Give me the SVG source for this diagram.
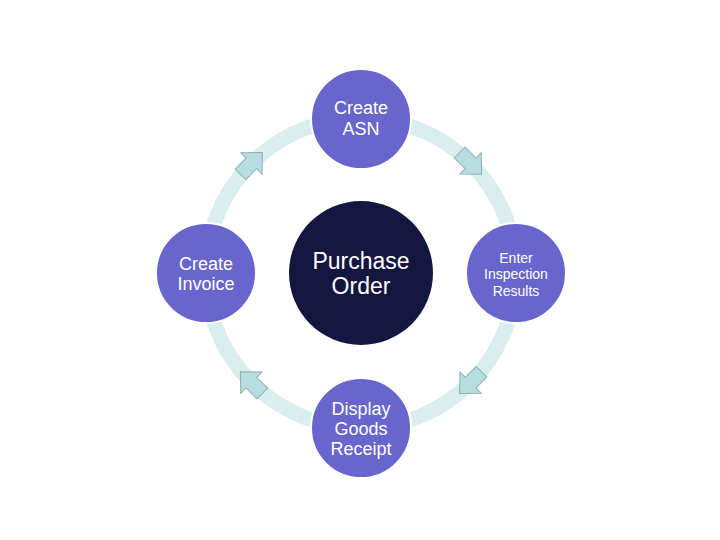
<svg xmlns="http://www.w3.org/2000/svg" width="720" height="540" viewBox="0 0 720 540">
<defs>
<style>
.node{fill:#6866CC;stroke:#ffffff;stroke-width:2}
.center{fill:#15163F}
.t{font-family:"Liberation Sans",Arial,sans-serif;fill:#ffffff;text-anchor:middle}
.arrow{fill:#B8DDE0;stroke:#8FAFB2;stroke-width:1}
</style>
<polygon id="blk" points="-15.5,-7.5 0,-7.5 0,-15 15.5,0 0,15 0,7.5 -15.5,7.5"/>
</defs>
<rect width="720" height="540" fill="#ffffff"/>
<g id="connectors">
<circle cx="361" cy="273" r="155" fill="none" stroke="#DAEDEF" stroke-width="15"/>
<use href="#blk" class="arrow" transform="translate(470.6,163.4) rotate(45)"/>
<use href="#blk" class="arrow" transform="translate(470.6,382.6) rotate(135)"/>
<use href="#blk" class="arrow" transform="translate(251.4,382.6) rotate(225)"/>
<use href="#blk" class="arrow" transform="translate(251.4,163.4) rotate(315)"/>
</g>
<g id="purchase-order">
<circle class="center" cx="361" cy="273" r="72"/>
<text class="t" x="361" y="269" font-size="23">Purchase</text>
<text class="t" x="361" y="294" font-size="23">Order</text>
</g>
<g id="create-asn">
<circle class="node" cx="361" cy="119" r="50"/>
<text class="t" x="361" y="113.5" font-size="18">Create</text>
<text class="t" x="361" y="134.5" font-size="18">ASN</text>
</g>
<g id="enter-inspection">
<circle class="node" cx="516" cy="273" r="50"/>
<text class="t" x="516" y="262.5" font-size="14">Enter</text>
<text class="t" x="516" y="279" font-size="14">Inspection</text>
<text class="t" x="516" y="295.5" font-size="14">Results</text>
</g>
<g id="display-goods-receipt">
<circle class="node" cx="361" cy="428" r="50"/>
<text class="t" x="361" y="415" font-size="18">Display</text>
<text class="t" x="361" y="435" font-size="18">Goods</text>
<text class="t" x="361" y="455" font-size="18">Receipt</text>
</g>
<g id="create-invoice">
<circle class="node" cx="206" cy="273" r="50"/>
<text class="t" x="206" y="270" font-size="18">Create</text>
<text class="t" x="206" y="290" font-size="18">Invoice</text>
</g>
</svg>
